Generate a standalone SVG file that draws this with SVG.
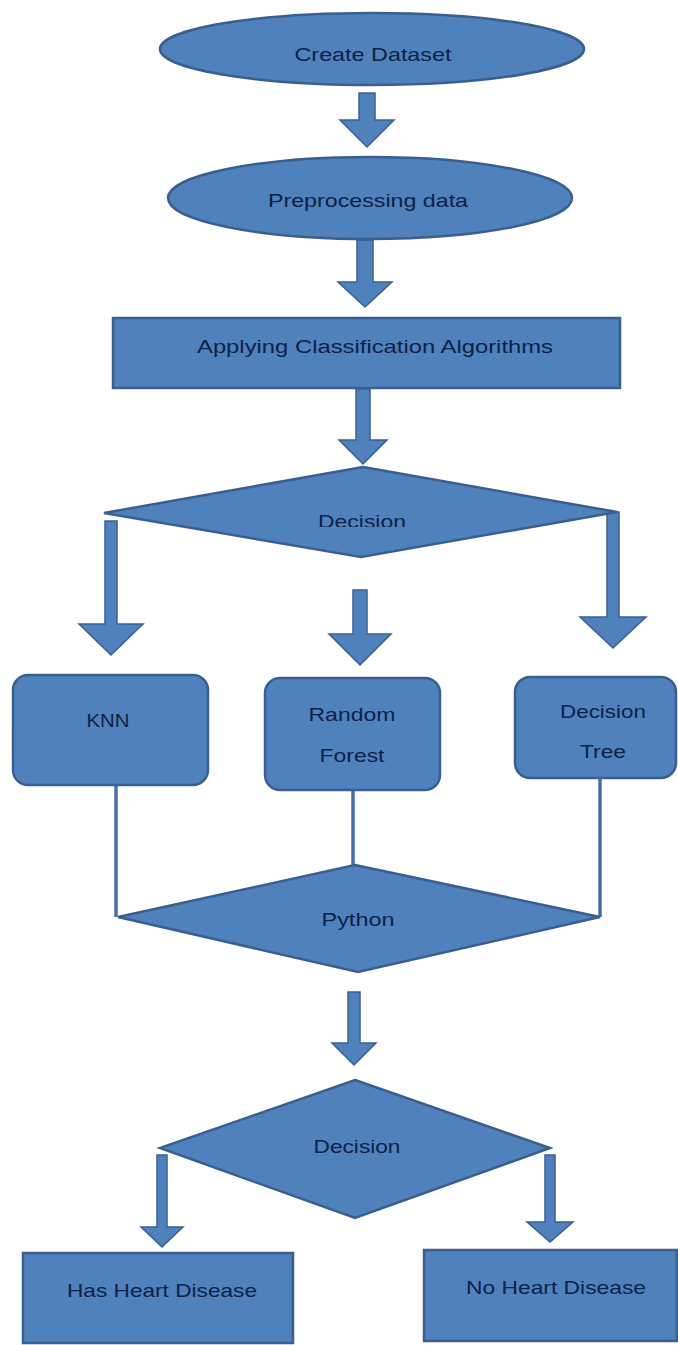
<svg xmlns="http://www.w3.org/2000/svg" width="678" height="1345" viewBox="0 0 678 1345">
<style>
.shape{fill:#4f81bd;stroke:#3a5f8e;stroke-width:2.5}
.arrow{fill:#4f81bd;stroke:#3a5f8e;stroke-width:1.5;stroke-linejoin:miter}
.conn{fill:none;stroke:#4a6ea6;stroke-width:3.5}
.lbl{font-family:"Liberation Sans",Arial,sans-serif;font-size:19px;fill:#0f2145;text-anchor:middle}
</style>
<defs>
<clipPath id="clipDec1"><rect x="250" y="500" width="230" height="27"/></clipPath>
</defs>
<rect width="678" height="1345" fill="#ffffff"/>
<g id="connectors">
<path class="arrow" d="M359,93 L375,93 L375,120 L394,120 L367,147 L340,120 L359,120 Z"/>
<path class="arrow" d="M357,240 L373,240 L373,282 L392,282 L365,307 L338,282 L357,282 Z"/>
<path class="arrow" d="M356,389 L370,389 L370,440 L387,440 L363,464 L339,440 L356,440 Z"/>
<path class="arrow" d="M105,521 L117,521 L117,624 L143,624 L111,655 L79,624 L105,624 Z"/>
<path class="arrow" d="M353,590 L367,590 L367,634 L391,634 L360,665 L329,634 L353,634 Z"/>
<path class="arrow" d="M607,512 L619,512 L619,617 L646,617 L613,648 L580,617 L607,617 Z"/>
<line class="conn" x1="116" y1="786" x2="116" y2="917"/>
<line class="conn" x1="353" y1="791" x2="353" y2="866"/>
<line class="conn" x1="600" y1="779" x2="600" y2="917"/>
<path class="arrow" d="M348,992 L360,992 L360,1043 L376,1043 L354,1065 L332,1043 L348,1043 Z"/>
<path class="arrow" d="M157,1155 L167,1155 L167,1227 L183,1227 L162,1247 L141,1227 L157,1227 Z"/>
<path class="arrow" d="M545,1155 L555,1155 L555,1222 L573,1222 L550,1242 L527,1222 L545,1222 Z"/>
</g>
<g id="create-dataset">
<ellipse class="shape" cx="372" cy="49" rx="212" ry="36"/>
<text class="lbl" x="373" y="61" textLength="157" lengthAdjust="spacingAndGlyphs">Create Dataset</text>
</g>
<g id="preprocessing">
<ellipse class="shape" cx="370" cy="198" rx="202" ry="41"/>
<text class="lbl" x="368" y="207" textLength="200" lengthAdjust="spacingAndGlyphs">Preprocessing data</text>
</g>
<g id="applying">
<rect class="shape" x="113" y="318" width="507" height="70"/>
<text class="lbl" x="375" y="353" textLength="356" lengthAdjust="spacingAndGlyphs">Applying Classification Algorithms</text>
</g>
<g id="decision1">
<polygon class="shape" points="363,467 617,512 361,557 104,513"/>
<text class="lbl" x="362" y="528" textLength="88" lengthAdjust="spacingAndGlyphs" clip-path="url(#clipDec1)">Decision</text>
</g>
<g id="knn">
<rect class="shape" x="13" y="675" width="195" height="110" rx="15"/>
<text class="lbl" x="108" y="727" textLength="43" lengthAdjust="spacingAndGlyphs">KNN</text>
</g>
<g id="random-forest">
<rect class="shape" x="265" y="678" width="175" height="112" rx="15"/>
<text class="lbl" x="352" y="721" textLength="87" lengthAdjust="spacingAndGlyphs">Random</text>
<text class="lbl" x="352" y="762" textLength="65" lengthAdjust="spacingAndGlyphs">Forest</text>
</g>
<g id="decision-tree">
<rect class="shape" x="515" y="677" width="161" height="101" rx="15"/>
<text class="lbl" x="603" y="718" textLength="86" lengthAdjust="spacingAndGlyphs">Decision</text>
<text class="lbl" x="603" y="758" textLength="46" lengthAdjust="spacingAndGlyphs">Tree</text>
</g>
<g id="python">
<polygon class="shape" points="355,865 600,917 358,972 118,917"/>
<text class="lbl" x="358" y="926" textLength="73" lengthAdjust="spacingAndGlyphs">Python</text>
</g>
<g id="decision2">
<polygon class="shape" points="355,1080 550,1148 355,1218 160,1148"/>
<text class="lbl" x="357" y="1153" textLength="87" lengthAdjust="spacingAndGlyphs">Decision</text>
</g>
<g id="has-heart-disease">
<rect class="shape" x="23" y="1253" width="270" height="90"/>
<text class="lbl" x="162" y="1297" textLength="190" lengthAdjust="spacingAndGlyphs">Has Heart Disease</text>
</g>
<g id="no-heart-disease">
<rect class="shape" x="424" y="1250" width="253" height="91"/>
<text class="lbl" x="556" y="1294" textLength="180" lengthAdjust="spacingAndGlyphs">No Heart Disease</text>
</g>
</svg>
